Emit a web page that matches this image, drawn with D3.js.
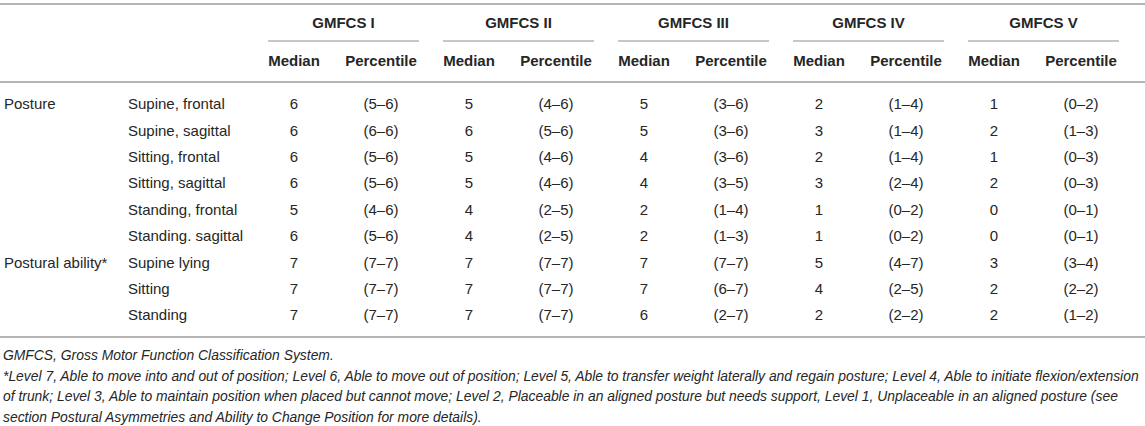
<!DOCTYPE html>
<html>
<head>
<meta charset="utf-8">
<script src="https://cdn.jsdelivr.net/npm/d3@7"></script>
<style>
  body { margin: 0; background: #fff; }
  svg { display: block; }
</style>
</head>
<body>
<div id="table"></div>
<script>
// table content
const groups = ["GMFCS I", "GMFCS II", "GMFCS III", "GMFCS IV", "GMFCS V"];
const subCols = ["Median", "Percentile"];
const sections = ["Posture", "", "", "", "", "", "Postural ability*", "", ""];
const items = ["Supine, frontal", "Supine, sagittal", "Sitting, frontal", "Sitting, sagittal",
  "Standing, frontal", "Standing. sagittal", "Supine lying", "Sitting", "Standing"];
const medians = [
  [6, 5, 5, 2, 1],
  [6, 6, 5, 3, 2],
  [6, 5, 4, 2, 1],
  [6, 5, 4, 3, 2],
  [5, 4, 2, 1, 0],
  [6, 4, 2, 1, 0],
  [7, 7, 7, 5, 3],
  [7, 7, 7, 4, 2],
  [7, 7, 6, 2, 2]
];
const percentiles = [
  ["(5–6)", "(4–6)", "(3–6)", "(1–4)", "(0–2)"],
  ["(6–6)", "(5–6)", "(3–6)", "(1–4)", "(1–3)"],
  ["(5–6)", "(4–6)", "(3–6)", "(1–4)", "(0–3)"],
  ["(5–6)", "(4–6)", "(3–5)", "(2–4)", "(0–3)"],
  ["(4–6)", "(2–5)", "(1–4)", "(0–2)", "(0–1)"],
  ["(5–6)", "(2–5)", "(1–3)", "(0–2)", "(0–1)"],
  ["(7–7)", "(7–7)", "(7–7)", "(4–7)", "(3–4)"],
  ["(7–7)", "(7–7)", "(6–7)", "(2–5)", "(2–2)"],
  ["(7–7)", "(7–7)", "(2–7)", "(2–2)", "(1–2)"]
];
const footnotes = [
  "GMFCS, Gross Motor Function Classification System.",
  "*Level 7, Able to move into and out of position; Level 6, Able to move out of position; Level 5, Able to transfer weight laterally and regain posture; Level 4, Able to initiate flexion/extension",
  "of trunk; Level 3, Able to maintain position when placed but cannot move; Level 2, Placeable in an aligned posture but needs support, Level 1, Unplaceable in an aligned posture (see",
  "section Postural Asymmetries and Ability to Change Position for more details)."
];

const width = 1145, height = 426;
const font = "'Liberation Sans', Arial, Helvetica, sans-serif";
const textCol = "#262626", lineCol = "#b5b5b5";

const svg = d3.select("#table").append("svg")
  .attr("width", width)
  .attr("height", height)
  .style("font-family", font);

// column scales
const x = d3.scaleBand().domain(groups).range([268, 1119]).paddingInner(24 / 175);
const xSub = d3.scalePoint().domain(subCols).range([26, 113]);
const y = d3.scalePoint().domain(d3.range(items.length)).range([104, 315]);

// horizontal rules
[4, 82, 337].forEach(function(ly) {
  svg.append("line")
    .attr("x1", 0).attr("x2", width)
    .attr("y1", ly).attr("y2", ly)
    .attr("stroke", lineCol).attr("stroke-width", 2);
});

// group headers + underlines
const head = svg.append("g").attr("font-weight", "bold").attr("font-size", 15).attr("fill", textCol);
head.selectAll(".grp")
  .data(groups)
  .enter().append("text")
  .attr("class", "grp")
  .attr("x", d => x(d) + x.bandwidth() / 2)
  .attr("y", 23)
  .attr("dy", "0.35em")
  .attr("text-anchor", "middle")
  .text(d => d);

svg.selectAll(".grpline")
  .data(groups)
  .enter().append("line")
  .attr("class", "grpline")
  .attr("x1", d => x(d)).attr("x2", d => x(d) + x.bandwidth())
  .attr("y1", 41).attr("y2", 41)
  .attr("stroke", lineCol).attr("stroke-width", 1.5);

// Median / Percentile headers
groups.forEach(function(g) {
  head.selectAll(null)
    .data(subCols)
    .enter().append("text")
    .attr("x", d => x(g) + xSub(d))
    .attr("y", 61)
    .attr("dy", "0.35em")
    .attr("text-anchor", "middle")
    .text(d => d);
});

// body rows
const body = svg.append("g").attr("font-size", 15).attr("fill", textCol);
const rows = body.selectAll(".row")
  .data(items)
  .enter().append("g")
  .attr("class", "row")
  .attr("transform", (d, i) => "translate(0," + y(i) + ")");

rows.append("text")
  .attr("x", 4).attr("dy", "0.35em")
  .text((d, i) => sections[i]);

rows.append("text")
  .attr("x", 128).attr("dy", "0.35em")
  .text(d => d);

rows.each(function(d, i) {
  const r = d3.select(this);
  groups.forEach(function(g, j) {
    r.append("text")
      .attr("x", x(g) + xSub("Median"))
      .attr("dy", "0.35em")
      .attr("text-anchor", "middle")
      .text(medians[i][j]);
    r.append("text")
      .attr("x", x(g) + xSub("Percentile"))
      .attr("dy", "0.35em")
      .attr("text-anchor", "middle")
      .text(percentiles[i][j]);
  });
});

// footnotes - shrink font so the longest line fits the width
const foot = svg.append("g")
  .attr("font-size", 14)
  .attr("font-style", "italic")
  .attr("fill", textCol);
const notes = foot.selectAll("text")
  .data(footnotes)
  .enter().append("text")
  .attr("x", 3)
  .attr("y", (d, i) => 355 + i * 20.7)
  .attr("dy", "0.35em")
  .text(d => d);
let longest = 0;
notes.each(function() { longest = Math.max(longest, this.getComputedTextLength()); });
if (longest > 1137) foot.attr("font-size", 14 * 1137 / longest);
</script>
</body>
</html>
